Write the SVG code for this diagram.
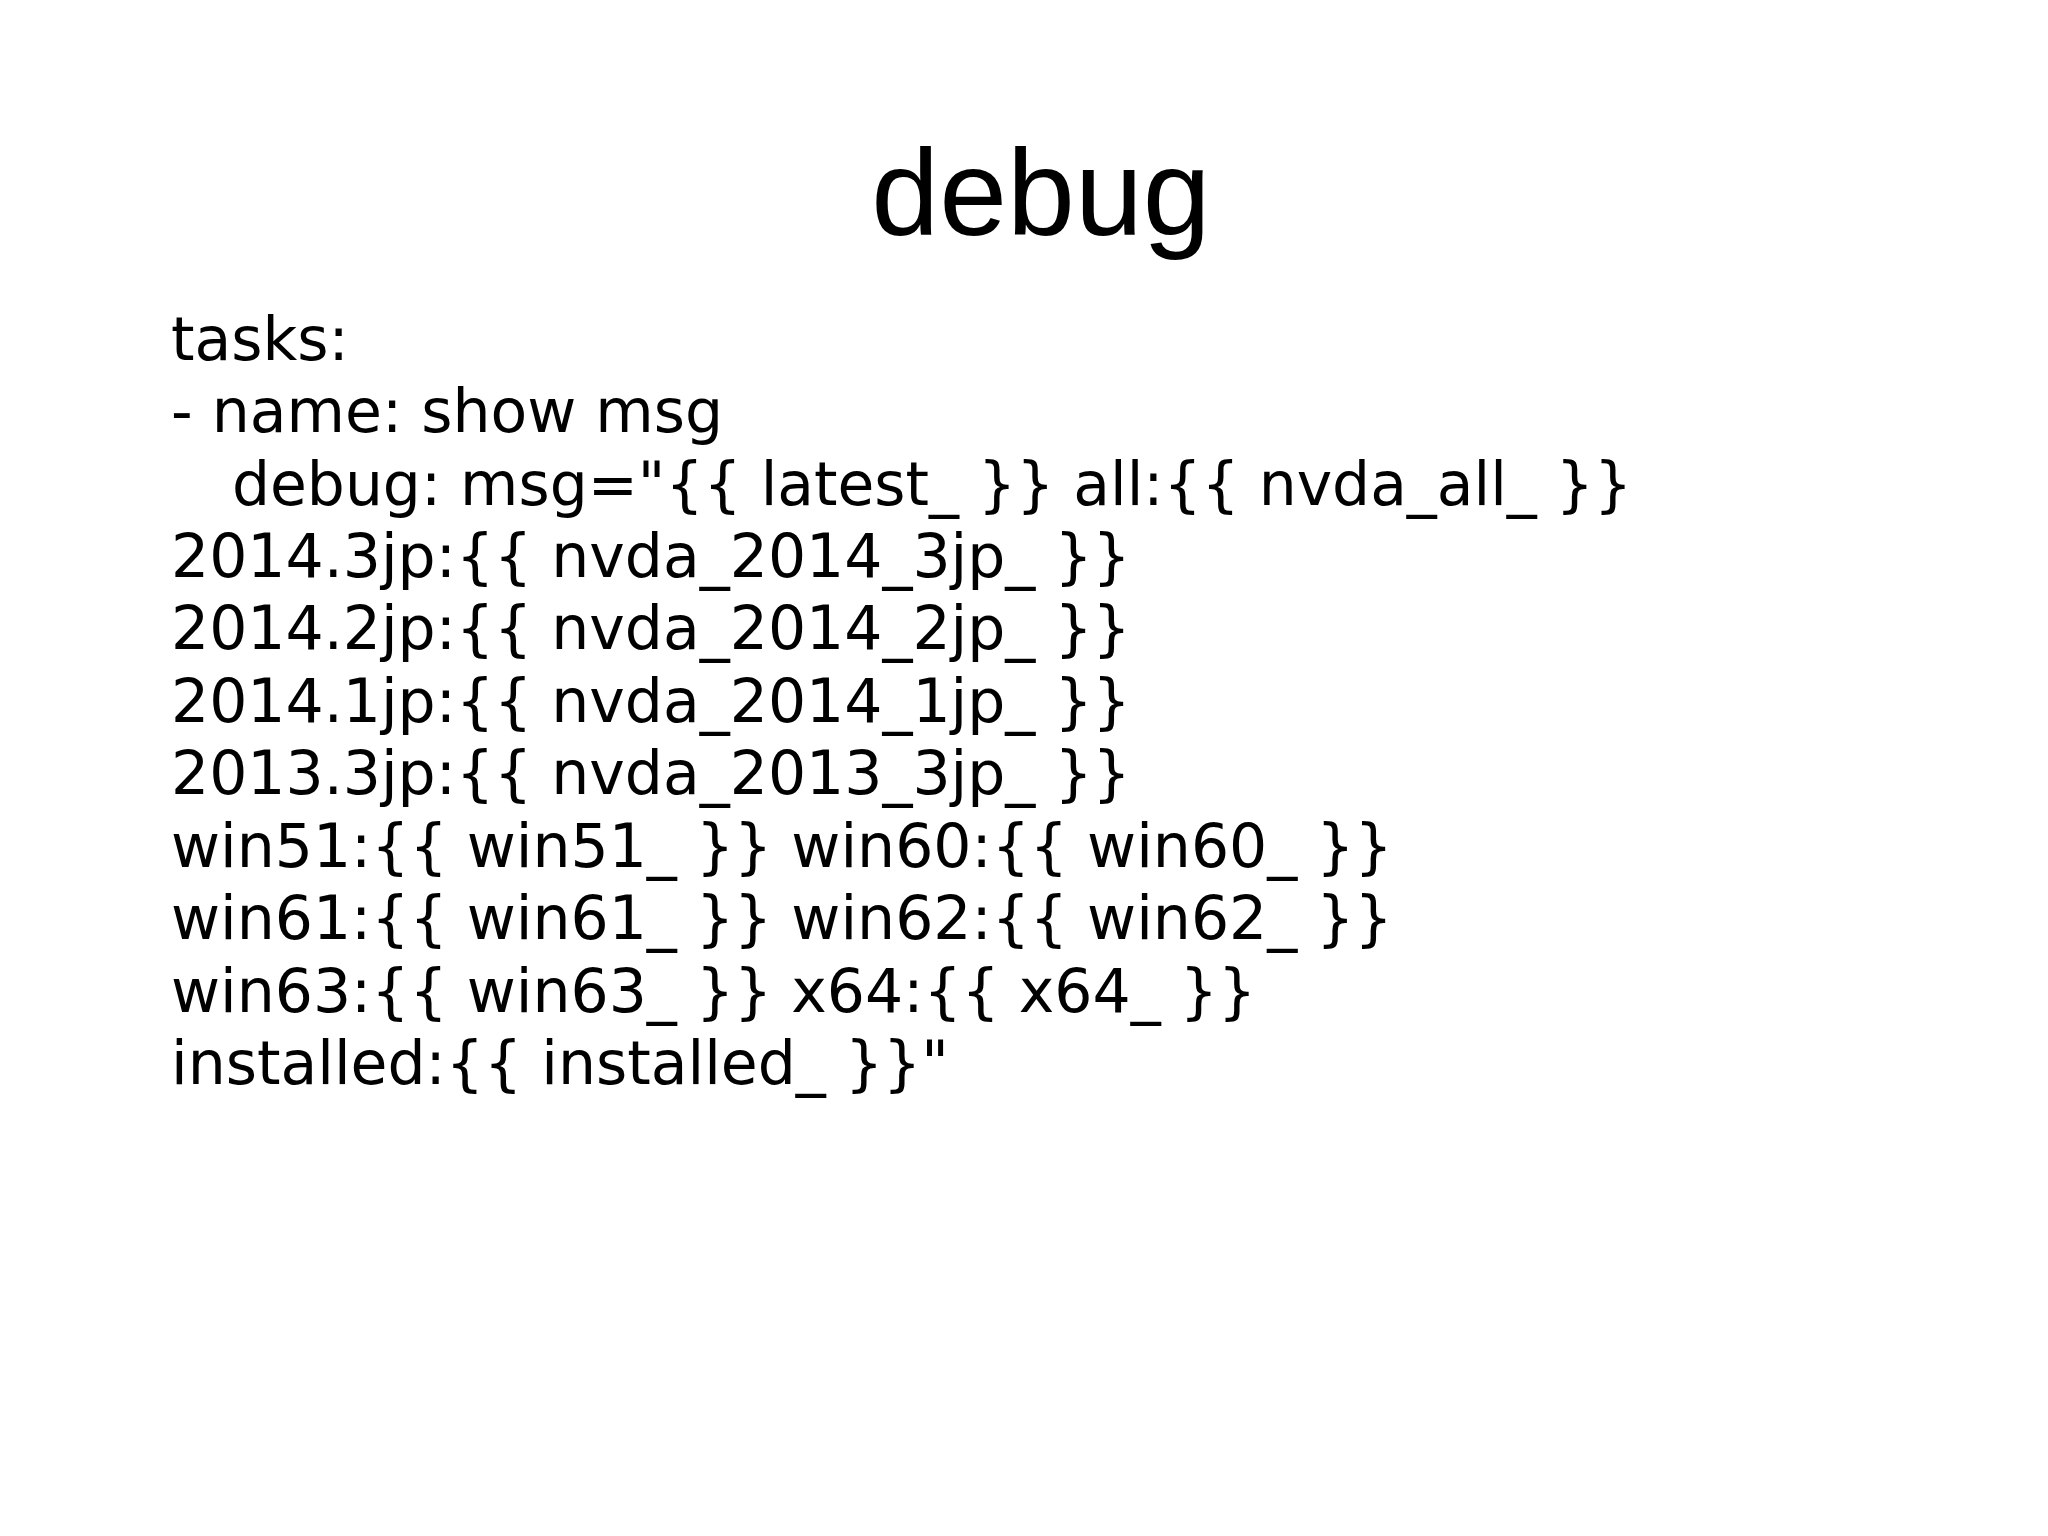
<svg xmlns="http://www.w3.org/2000/svg" width="2048" height="1536" viewBox="0 0 2048 1536">
<style>
.t{font-family:"Liberation Sans",Arial,sans-serif;font-size:122px;fill:#000}
.b{font-family:"DejaVu Sans","Noto Sans CJK JP",sans-serif;font-size:60px;fill:#000}
</style>
<rect width="2048" height="1536" fill="#fff"/>
<g id="title"><text class="t" x="1041" y="235" text-anchor="middle">debug</text></g>
<g id="body">
<text class="b" x="171" y="360">tasks:</text>
<text class="b" x="171" y="432">- name: show msg</text>
<text class="b" x="232" y="505" textLength="1400" lengthAdjust="spacingAndGlyphs">debug: msg="{{ latest_ }} all:{{ nvda_all_ }}</text>
<text class="b" x="171" y="577">2014.3jp:{{ nvda_2014_3jp_ }}</text>
<text class="b" x="171" y="649">2014.2jp:{{ nvda_2014_2jp_ }}</text>
<text class="b" x="171" y="722">2014.1jp:{{ nvda_2014_1jp_ }}</text>
<text class="b" x="171" y="794">2013.3jp:{{ nvda_2013_3jp_ }}</text>
<text class="b" x="171" y="867">win51:{{ win51_ }} win60:{{ win60_ }}</text>
<text class="b" x="171" y="939">win61:{{ win61_ }} win62:{{ win62_ }}</text>
<text class="b" x="171" y="1012">win63:{{ win63_ }} x64:{{ x64_ }}</text>
<text class="b" x="171" y="1084">installed:{{ installed_ }}"</text>
</g>
</svg>
